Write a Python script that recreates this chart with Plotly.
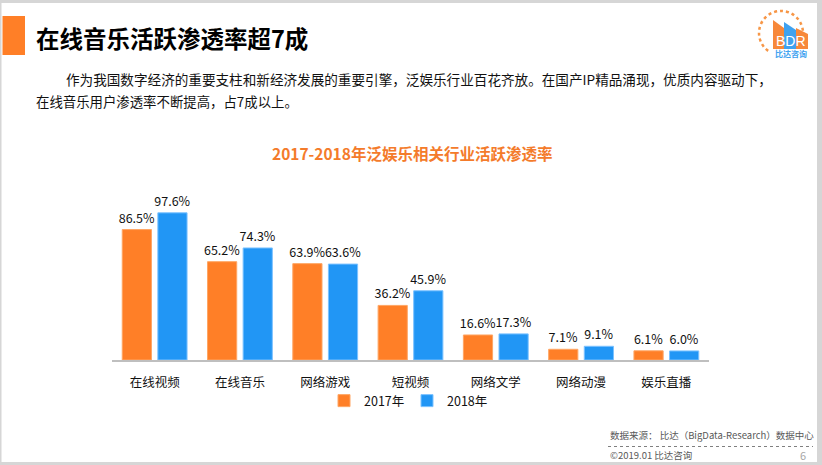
import plotly.graph_objects as go

W, H = 822, 465
FONT = "Noto Sans CJK SC"

categories = ["在线视频", "在线音乐", "网络游戏", "短视频", "网络文学", "网络动漫", "娱乐直播"]
values_2017 = [86.5, 65.2, 63.9, 36.2, 16.6, 7.1, 6.1]
values_2018 = [97.6, 74.3, 63.6, 45.9, 17.3, 9.1, 6.0]
series_names = ["2017年", "2018年"]

ORANGE = "#FF7F27"
BLUE = "#2196F5"


def px(x):
    return x / W


def py(y):
    return 1 - y / H


fig = go.Figure()
fig.add_trace(go.Bar(
    x=categories, y=values_2017, name=series_names[0],
    marker=dict(color=ORANGE, line=dict(color="#FFA664", width=1)),
    texttemplate="%{y:.1f}%", textposition="outside", cliponaxis=False, constraintext="none",
    textfont=dict(size=12.5, color="#111111", family=FONT),
))
fig.add_trace(go.Bar(
    x=categories, y=values_2018, name=series_names[1],
    marker=dict(color=BLUE, line=dict(color="#7CC2FF", width=1)),
    texttemplate="%{y:.1f}%", textposition="outside", cliponaxis=False, constraintext="none",
    textfont=dict(size=12.5, color="#111111", family=FONT),
))

shapes = []
# gray frame
for (x0, y0, x1, y1) in [(0, 0, 822, 3), (0, 0, 1.5, 465), (817, 0, 822, 465), (0, 462, 822, 465)]:
    shapes.append(dict(type="rect", xref="paper", yref="paper",
                       x0=px(x0), x1=px(x1), y0=py(y1), y1=py(y0),
                       fillcolor="#d6d6d6", line=dict(width=0), layer="above"))
# orange accent
shapes.append(dict(type="rect", xref="paper", yref="paper",
                   x0=px(2.5), x1=px(25), y0=py(55), y1=py(16),
                   fillcolor=ORANGE, line=dict(width=0)))
# dotted footer line
shapes.append(dict(type="line", xref="paper", yref="paper",
                   x0=px(608), x1=px(813), y0=py(446.5), y1=py(446.5),
                   line=dict(color="#7f7f7f", width=1, dash="dot")))
# logo: dotted circle
shapes.append(dict(type="circle", xref="paper", yref="paper",
                   x0=px(759), x1=px(803), y0=py(55), y1=py(11),
                   line=dict(color="#F79646", width=2.5, dash="dot")))


def poly(pts, color):
    d = "M " + " L ".join(f"{px(a):.5f},{py(b):.5f}" for a, b in pts) + " Z"
    return dict(type="path", xref="paper", yref="paper", path=d,
                fillcolor=color, line=dict(width=0))


shapes.append(dict(type="rect", xref="paper", yref="paper", x0=px(770), x1=px(812),
                   y0=py(58), y1=py(31), fillcolor="white", line=dict(width=0)))
shapes.append(poly([(773, 49), (773, 20), (784, 28), (784, 49)], "#F7883A"))
shapes.append(poly([(784, 49), (784, 22), (796, 30), (796, 49)], "#3FA2F0"))
shapes.append(poly([(796, 49), (796, 28), (808, 34), (808, 49)], "#F7883A"))


def ann(text, x, y, size, color, xanchor="left", family=FONT):
    return dict(text=text, x=px(x), y=py(y), xref="paper", yref="paper",
                xanchor=xanchor, yanchor="middle", showarrow=False,
                font=dict(size=size, color=color, family=family))


annotations = [
    ann("<b>在线音乐活跃渗透率超7成</b>", 34, 38, 23.5, "#000000"),
    ann("作为我国数字经济的重要支柱和新经济发展的重要引擎，泛娱乐行业百花齐放。在国产IP精品涌现，优质内容驱动下，",
        64, 79, 13.6, "#111111"),
    ann("在线音乐用户渗透率不断提高，占7成以上。", 34, 101, 13.4, "#111111"),
    ann("<b>2017-2018年泛娱乐相关行业活跃渗透率</b>", 412, 153, 15.5, "#F47B2B", xanchor="center"),
    ann("数据来源： 比达（BigData-Research）数据中心", 608, 435, 9.5, "#595959"),
    ann("©2019.01 比达咨询", 608, 454.5, 9.5, "#595959"),
    ann("6", 808, 454.5, 11, "#a6a6a6", xanchor="right"),
    ann("BDR", 790.5, 41, 14, "white", xanchor="center", family="Liberation Sans"),
    ann("<b>比达咨询</b>", 790.5, 53, 8, "#3FA2F0", xanchor="center"),
]

fig.update_layout(
    width=W, height=H,
    margin=dict(l=0, r=0, t=0, b=0),
    paper_bgcolor="white", plot_bgcolor="white",
    font=dict(family=FONT, color="#111111"),
    barmode="group", bargap=0.165, bargroupgap=0.18,
    showlegend=True,
    legend=dict(orientation="h", x=px(324), xanchor="left", y=py(401), yanchor="middle",
                font=dict(size=12.5, color="#111111", family=FONT), bgcolor="rgba(0,0,0,0)",
                itemwidth=30, traceorder="normal", entrywidth=38, entrywidthmode="pixels"),
    xaxis=dict(domain=[px(112), px(709)], range=[-0.5, 6.5], showline=True, linecolor="#bfbfbf",
               linewidth=1.5, ticks="", showgrid=False,
               tickfont=dict(size=12.5, color="#111111", family=FONT),
               ticklabelstandoff=10, fixedrange=True),
    yaxis=dict(domain=[py(360), py(180)], range=[0, 180 / 1.508], visible=False, fixedrange=True),
    shapes=shapes, annotations=annotations,
)

fig.write_html("out.html", config={"displayModeBar": False},
               post_script="document.body.style.margin='0';document.body.style.overflow='hidden';")
